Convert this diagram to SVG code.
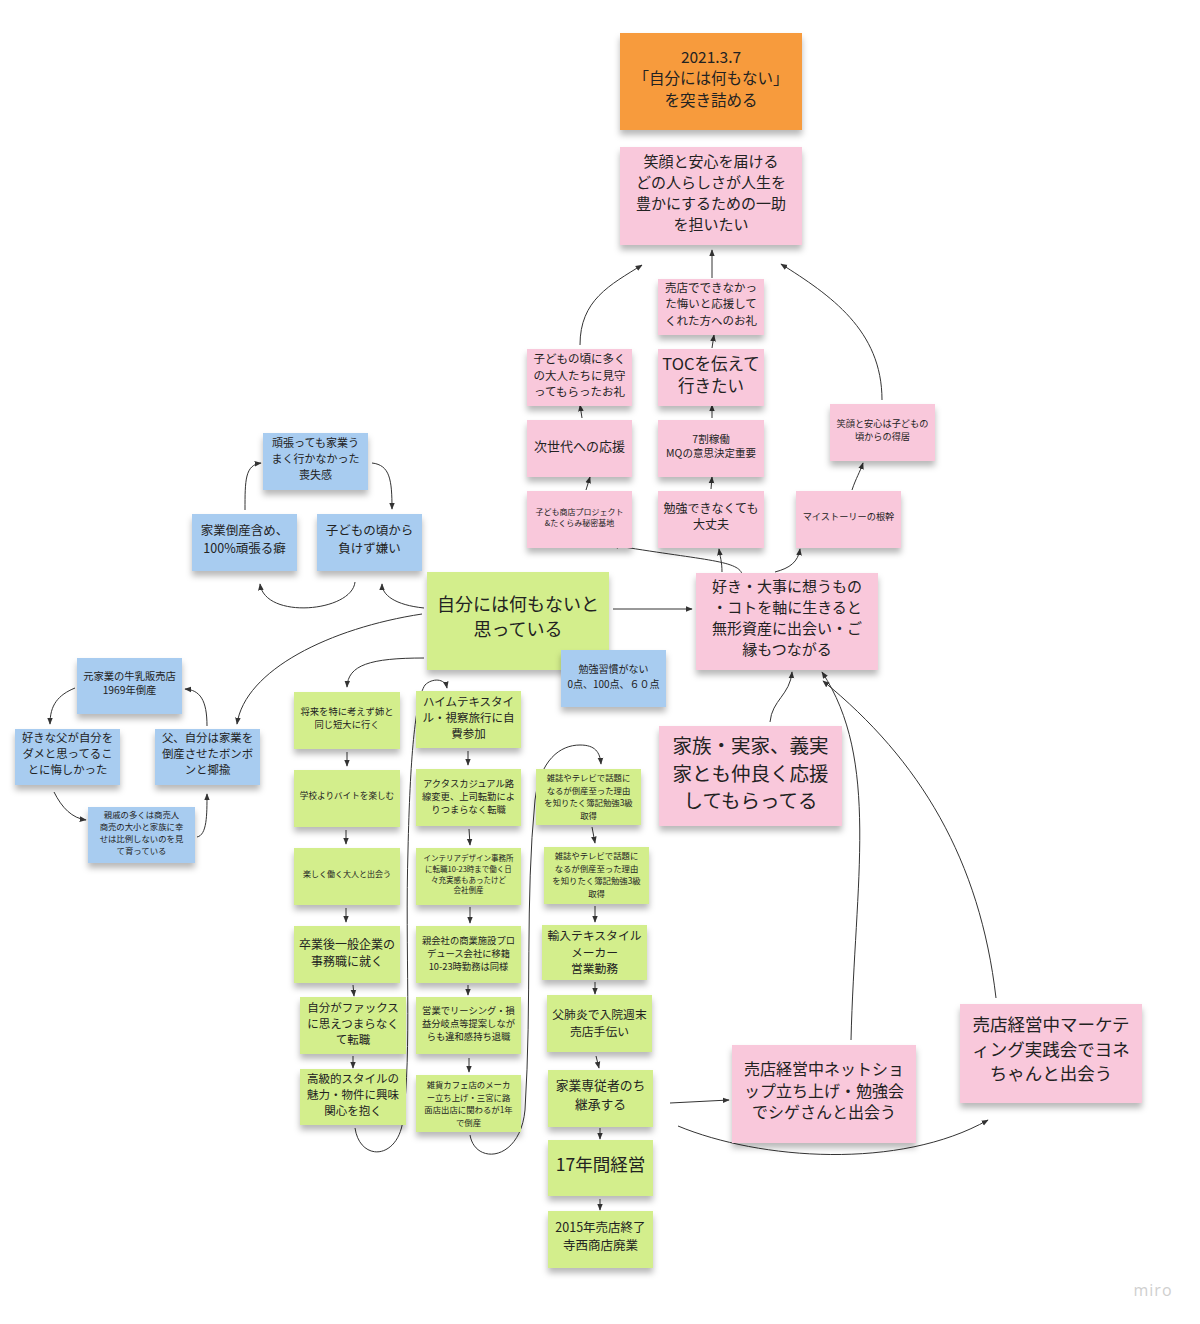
<svg xmlns="http://www.w3.org/2000/svg" width="1200" height="1324" viewBox="0 0 1200 1324">
<defs>
<style>
.o{fill:#F79B3C}.p{fill:#F9C8DB}.b{fill:#A8CCF0}.g{fill:#D3EE8C}
rect{filter:url(#sh)}
text{font-family:"Noto Sans CJK JP","Noto Sans",sans-serif;text-anchor:middle;fill:#222}
.c path{fill:none;stroke:#333;stroke-width:1;marker-end:url(#a)}
.wm{font-family:"Open Sans","Liberation Sans",sans-serif;fill:#cfcfcf;font-size:16px;letter-spacing:1px}
</style>
<filter id="sh" x="-10%" y="-10%" width="120%" height="140%">
<feDropShadow dx="0" dy="5" stdDeviation="3" flood-color="#000" flood-opacity="0.28"/>
</filter>
<marker id="a" viewBox="0 0 10 10" refX="9" refY="5" markerWidth="7" markerHeight="7" orient="auto" markerUnits="userSpaceOnUse"><path d="M0,1 L10,5 L0,9 z" fill="#333"/></marker>
</defs>
<rect width="1200" height="1324" fill="#fff" style="filter:none"/>

<g class="c" id="connectors">
<path d="M580,345 C580,300 610,285 642,265"/>
<path d="M712,278 L712,250"/>
<path d="M882,400 C882,330 830,295 781,264"/>
<path d="M712,348 L714,335"/>
<path d="M582,418 L580,405"/>
<path d="M712,418 L712,405"/>
<path d="M586,490 L590,477"/>
<path d="M711,489 L712,477"/>
<path d="M852,490 C856,478 860,472 863,463"/>
<path d="M742,574 C738,560 700,560 612,545"/>
<path d="M722,572 C722,562 720,556 719,549"/>
<path d="M775,572 C790,568 798,562 800,549"/>
<path d="M613,609 L692,609"/>
<path d="M424,608 C395,605 382,595 382,584"/>
<path d="M355,582 C352,612 265,620 260,584"/>
<path d="M245,510 C245,480 245,465 261,463"/>
<path d="M372,463 C390,465 392,480 392,509"/>
<path d="M422,614 C330,628 245,670 237,724"/>
<path d="M207,726 C207,700 200,690 185,689"/>
<path d="M75,688 C58,695 50,705 50,724"/>
<path d="M54,792 C62,808 72,818 86,820"/>
<path d="M197,837 C207,835 207,815 207,794"/>
<path d="M424,658 C370,658 348,665 347,687"/>
<path d="M347,752 L347,766"/>
<path d="M346,830 L346,844"/>
<path d="M346,908 L346,922"/>
<path d="M353,985 L354,996"/>
<path d="M353,1056 L353,1068"/>
<path d="M355,1128 C360,1162 398,1160 403,1120 C412,1050 405,950 408,850 C410,760 415,700 425,685 C432,678 445,678 447,688"/>
<path d="M468,751 L468,765"/>
<path d="M469,829 L470,845"/>
<path d="M470,907 L470,923"/>
<path d="M468,985 L468,995"/>
<path d="M469,1058 L469,1072"/>
<path d="M470,1135 C475,1165 520,1162 525,1110 C532,1000 525,900 535,800 C540,760 560,745 580,745 C595,745 600,752 601,764"/>
<path d="M592,827 L595,843"/>
<path d="M595,906 L595,922"/>
<path d="M595,982 L595,994"/>
<path d="M596,1056 L599,1068"/>
<path d="M600,1128 L600,1139"/>
<path d="M600,1199 L600,1210"/>
<path d="M670,1103 L729,1100"/>
<path d="M678,1126 C760,1160 900,1170 988,1120"/>
<path d="M851,1040 C855,880 880,760 822,672"/>
<path d="M996,998 C980,860 920,760 823,681"/>
<path d="M770,722 C772,700 790,695 792,672"/>
</g>

<g id="n-root"><rect class="o" x="620" y="33" width="182" height="97"/>
<text x="711" y="62.5" font-size="15.5">2021.3.7</text><text x="711" y="83.5" font-size="15.5">「自分には何もない」</text><text x="711" y="105.5" font-size="15.5">を突き詰める</text></g>

<g id="n-mission"><rect class="p" x="620" y="147" width="182" height="98"/>
<text x="711" y="167" font-size="15">笑顔と安心を届ける</text><text x="711" y="188" font-size="15">どの人らしさが人生を</text><text x="711" y="209" font-size="15">豊かにするための一助</text><text x="711" y="230" font-size="15">を担いたい</text></g>

<g id="n-orei"><rect class="p" x="658" y="279" width="106" height="56"/>
<text x="711" y="292" font-size="11.5">売店でできなかっ</text><text x="711" y="308" font-size="11.5">た悔いと応援して</text><text x="711" y="325" font-size="11.5">くれた方へのお礼</text></g>

<g id="n-kodomo-orei"><rect class="p" x="527" y="349" width="105" height="57"/>
<text x="579.5" y="363" font-size="11.5">子どもの頃に多く</text><text x="579.5" y="380" font-size="11.5">の大人たちに見守</text><text x="579.5" y="396" font-size="11.5">ってもらったお礼</text></g>

<g id="n-toc"><rect class="p" x="658" y="349" width="106" height="57"/>
<text x="711" y="370" font-size="16.5">TOCを伝えて</text><text x="711" y="392" font-size="16.5">行きたい</text></g>

<g id="n-jisedai"><rect class="p" x="527" y="420" width="105" height="57"/>
<text x="579.5" y="451" font-size="13">次世代への応援</text></g>

<g id="n-mq"><rect class="p" x="658" y="420" width="106" height="57"/>
<text x="711" y="443" font-size="10.5">7割稼働</text><text x="711" y="457" font-size="10.5">MQの意思決定重要</text></g>

<g id="n-egao"><rect class="p" x="830" y="404" width="105" height="57"/>
<text x="882.5" y="427" font-size="9.2">笑顔と安心は子どもの</text><text x="882.5" y="440" font-size="9.2">頃からの得居</text></g>

<g id="n-shoten"><rect class="p" x="527" y="491" width="105" height="57"/>
<text x="579.5" y="515" font-size="8">子ども商店プロジェクト</text><text x="579.5" y="526" font-size="8">&amp;たくらみ秘密基地</text></g>

<g id="n-benkyo"><rect class="p" x="658" y="491" width="106" height="57"/>
<text x="711" y="513" font-size="12">勉強できなくても</text><text x="711" y="529" font-size="12">大丈夫</text></g>

<g id="n-mystory"><rect class="p" x="796" y="491" width="105" height="57"/>
<text x="848.5" y="520" font-size="9.2">マイストーリーの根幹</text></g>

<g id="n-suki"><rect class="p" x="696" y="573" width="182" height="97"/>
<text x="787" y="592" font-size="15">好き・大事に想うもの</text><text x="787" y="613" font-size="15">・コトを軸に生きると</text><text x="787" y="634" font-size="15">無形資産に出会い・ご</text><text x="787" y="655" font-size="15">縁もつながる</text></g>

<g id="n-kazoku"><rect class="p" x="659" y="726" width="183" height="100"/>
<text x="750.5" y="753" font-size="19.5">家族・実家、義実</text><text x="750.5" y="780.5" font-size="19.5">家とも仲良く応援</text><text x="750.5" y="808" font-size="19.5">してもらってる</text></g>

<g id="n-shige"><rect class="p" x="732" y="1045" width="184" height="98"/>
<text x="824" y="1075" font-size="16">売店経営中ネットショ</text><text x="824" y="1096.5" font-size="16">ップ立ち上げ・勉強会</text><text x="824" y="1118" font-size="16">でシゲさんと出会う</text></g>

<g id="n-yone"><rect class="p" x="960" y="1004" width="182" height="99"/>
<text x="1051" y="1031" font-size="17.5">売店経営中マーケテ</text><text x="1051" y="1055.5" font-size="17.5">ィング実践会でヨネ</text><text x="1051" y="1080" font-size="17.5">ちゃんと出会う</text></g>

<g id="n-soshitsu"><rect class="b" x="263" y="433" width="105" height="57"/>
<text x="315.5" y="447" font-size="11">頑張っても家業う</text><text x="315.5" y="463" font-size="11">まく行かなかった</text><text x="315.5" y="479" font-size="11">喪失感</text></g>

<g id="n-kuse"><rect class="b" x="192" y="514" width="105" height="57"/>
<text x="244.5" y="535" font-size="12.5">家業倒産含め、</text><text x="244.5" y="553" font-size="12.5">100%頑張る癖</text></g>

<g id="n-makezu"><rect class="b" x="317" y="514" width="105" height="57"/>
<text x="369.5" y="535" font-size="12.5">子どもの頃から</text><text x="369.5" y="553" font-size="12.5">負けず嫌い</text></g>

<g id="n-gyunyu"><rect class="b" x="77" y="658" width="105" height="56"/>
<text x="129.5" y="680" font-size="10.3">元家業の牛乳販売店</text><text x="129.5" y="694" font-size="10.3">1969年倒産</text></g>

<g id="n-kuyashii"><rect class="b" x="15" y="729" width="105" height="56"/>
<text x="67.5" y="742" font-size="11.4">好きな父が自分を</text><text x="67.5" y="758" font-size="11.4">ダメと思ってるこ</text><text x="67.5" y="774" font-size="11.4">とに悔しかった</text></g>

<g id="n-yayu"><rect class="b" x="155" y="729" width="105" height="56"/>
<text x="207.5" y="742" font-size="11.4">父、自分は家業を</text><text x="207.5" y="758" font-size="11.4">倒産させたボンボ</text><text x="207.5" y="774" font-size="11.4">ンと揶揄</text></g>

<g id="n-shinseki"><rect class="b" x="88" y="807" width="107" height="56"/>
<text x="141.5" y="818" font-size="8.4">親戚の多くは商売人</text><text x="141.5" y="830" font-size="8.4">商売の大小と家族に幸</text><text x="141.5" y="842" font-size="8.4">せは比例しないのを見</text><text x="141.5" y="854" font-size="8.4">て育っている</text></g>

<g id="n-center"><rect class="g" x="427" y="572" width="182" height="98"/>
<text x="518" y="611" font-size="18">自分には何もないと</text><text x="518" y="636" font-size="18">思っている</text></g>

<g id="n-shukan"><rect class="b" x="561" y="650" width="105" height="57"/>
<text x="613.5" y="672.5" font-size="10">勉強習慣がない</text><text x="613.5" y="687.5" font-size="10">0点、100点、６０点</text></g>

<g id="n-c1a"><rect class="g" x="294" y="692" width="106" height="57"/>
<text x="347" y="715" font-size="9.3">将来を特に考えず姉と</text><text x="347" y="728" font-size="9.3">同じ短大に行く</text></g>
<g id="n-c1b"><rect class="g" x="294" y="770" width="106" height="57"/>
<text x="347" y="799" font-size="8.6">学校よりバイトを楽しむ</text></g>
<g id="n-c1c"><rect class="g" x="294" y="848" width="106" height="57"/>
<text x="347" y="877" font-size="8">楽しく働く大人と出会う</text></g>
<g id="n-c1d"><rect class="g" x="294" y="926" width="106" height="57"/>
<text x="347" y="948.5" font-size="12">卒業後一般企業の</text><text x="347" y="966" font-size="12">事務職に就く</text></g>
<g id="n-c1e"><rect class="g" x="300" y="997" width="106" height="57"/>
<text x="353" y="1012" font-size="11.5">自分がファックス</text><text x="353" y="1028" font-size="11.5">に思えつまらなく</text><text x="353" y="1044" font-size="11.5">て転職</text></g>
<g id="n-c1f"><rect class="g" x="300" y="1069" width="106" height="56"/>
<text x="353" y="1083" font-size="11.5">高級的スタイルの</text><text x="353" y="1099" font-size="11.5">魅力・物件に興味</text><text x="353" y="1115" font-size="11.5">関心を抱く</text></g>

<g id="n-c2a"><rect class="g" x="416" y="691" width="105" height="57"/>
<text x="468.5" y="706" font-size="11.5">ハイムテキスタイ</text><text x="468.5" y="722" font-size="11.5">ル・視察旅行に自</text><text x="468.5" y="738" font-size="11.5">費参加</text></g>
<g id="n-c2b"><rect class="g" x="416" y="769" width="105" height="57"/>
<text x="468.5" y="787" font-size="9.3">アクタスカジュアル路</text><text x="468.5" y="800" font-size="9.3">線変更、上司転勤によ</text><text x="468.5" y="813" font-size="9.3">りつまらなく転職</text></g>
<g id="n-c2c"><rect class="g" x="416" y="848" width="105" height="57"/>
<text x="468.5" y="861" font-size="7.5">インテリアデザイン事務所</text><text x="468.5" y="872" font-size="7.5">に転職10-23時まで働く日</text><text x="468.5" y="882.5" font-size="7.5">々充実感もあったけど</text><text x="468.5" y="893" font-size="7.5">会社倒産</text></g>
<g id="n-c2d"><rect class="g" x="416" y="926" width="105" height="57"/>
<text x="468.5" y="944" font-size="9.3">親会社の商業施設プロ</text><text x="468.5" y="957" font-size="9.3">デュース会社に移籍</text><text x="468.5" y="970" font-size="9.3">10-23時勤務は同様</text></g>
<g id="n-c2e"><rect class="g" x="416" y="997" width="105" height="57"/>
<text x="468.5" y="1014" font-size="9.3">営業でリーシング・損</text><text x="468.5" y="1027" font-size="9.3">益分岐点等提案しなが</text><text x="468.5" y="1040" font-size="9.3">らも違和感持ち退職</text></g>
<g id="n-c2f"><rect class="g" x="416" y="1075" width="105" height="57"/>
<text x="468.5" y="1088" font-size="8.4">雑貨カフェ店のメーカ</text><text x="468.5" y="1100.5" font-size="8.4">ー立ち上げ・三宮に路</text><text x="468.5" y="1113" font-size="8.4">面店出店に関わるが1年</text><text x="468.5" y="1125.5" font-size="8.4">で倒産</text></g>

<g id="n-c3a"><rect class="g" x="536" y="769" width="105" height="56"/>
<text x="588.5" y="781" font-size="8.4">雑誌やテレビで話題に</text><text x="588.5" y="793.5" font-size="8.4">なるが倒産至った理由</text><text x="588.5" y="806" font-size="8.4">を知りたく簿記勉強3級</text><text x="588.5" y="818.5" font-size="8.4">取得</text></g>
<g id="n-c3b"><rect class="g" x="544" y="847" width="105" height="57"/>
<text x="596.5" y="859" font-size="8.4">雑誌やテレビで話題に</text><text x="596.5" y="871.5" font-size="8.4">なるが倒産至った理由</text><text x="596.5" y="884" font-size="8.4">を知りたく簿記勉強3級</text><text x="596.5" y="896.5" font-size="8.4">取得</text></g>
<g id="n-c3c"><rect class="g" x="542" y="925" width="105" height="55"/>
<text x="594.5" y="940" font-size="11.8">輸入テキスタイル</text><text x="594.5" y="956.5" font-size="11.8">メーカー</text><text x="594.5" y="973" font-size="11.8">営業勤務</text></g>
<g id="n-c3d"><rect class="g" x="547" y="995" width="105" height="57"/>
<text x="599.5" y="1019" font-size="11.8">父肺炎で入院週末</text><text x="599.5" y="1036" font-size="11.8">売店手伝い</text></g>
<g id="n-c3e"><rect class="g" x="548" y="1070" width="105" height="57"/>
<text x="600.5" y="1089.5" font-size="12.8">家業専従者のち</text><text x="600.5" y="1108.5" font-size="12.8">継承する</text></g>
<g id="n-c3f"><rect class="g" x="548" y="1140" width="105" height="56"/>
<text x="600.5" y="1171" font-size="17.5">17年間経営</text></g>
<g id="n-c3g"><rect class="g" x="548" y="1211" width="105" height="57"/>
<text x="600.5" y="1231.5" font-size="12.5">2015年売店終了</text><text x="600.5" y="1249.5" font-size="12.5">寺西商店廃業</text></g>

<text class="wm" x="1153" y="1296">miro</text>
</svg>
